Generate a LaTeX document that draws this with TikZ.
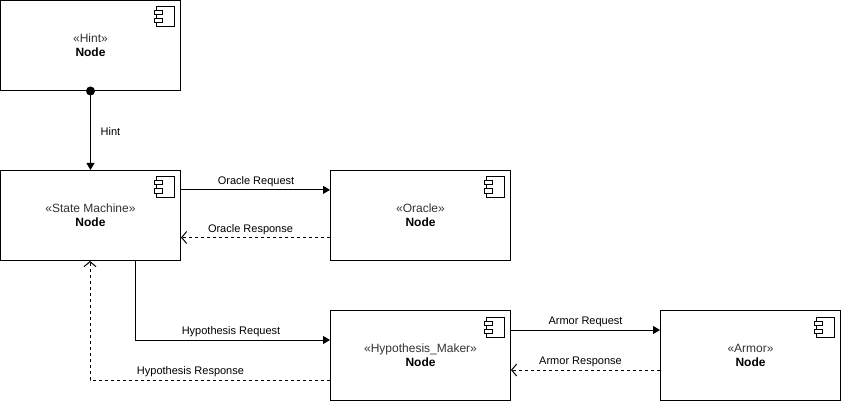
\documentclass[tikz,border=0pt]{standalone}
\usepackage{fontspec}
\setmainfont{Liberation Sans}
\usetikzlibrary{arrows.meta,calc}
\tikzset{
  compbox/.style={draw=black,line width=1pt,fill=white,minimum width=180pt,minimum height=90pt,inner sep=0pt,align=center,font=\fontsize{12}{14}\selectfont,text=black},
  icon/.style={draw=black,line width=1pt,fill=white},
  req/.style={draw=black,line width=1pt,-{Triangle[length=7pt,width=8pt]}},
  resp/.style={draw=black,line width=1pt,dash pattern=on 3pt off 3pt,-{Straight Barb[length=5pt,width=12pt]}},
  lbl/.style={font=\fontsize{11}{13}\selectfont,text=black,inner sep=0pt},
}
\newcommand{\compnode}[4]{%
  \node[compbox] (#1) at (#2,#3) {\textcolor[gray]{0.2}{«#4»}\\\textbf{Node}};
  \draw[icon] ($(#1.north east)+(-25,7)$) rectangle ($(#1.north east)+(-7,27)$);
  \draw[icon] ($(#1.north east)+(-27,11)$) rectangle ($(#1.north east)+(-19,15)$);
  \draw[icon] ($(#1.north east)+(-27,19)$) rectangle ($(#1.north east)+(-19,23)$);
}
\begin{document}
\begin{tikzpicture}[x=1pt,y=-1pt]
\useasboundingbox (0,0) rectangle (841,401);
\compnode{hint}{90.5}{45.5}{Hint}
\compnode{sm}{90.5}{215.5}{State Machine}
\compnode{oracle}{420.5}{215.5}{Oracle}
\compnode{hm}{420.5}{355.5}{Hypothesis\_Maker}
\compnode{armor}{750.5}{355.5}{Armor}
% hint connector
\draw[req] (hint.south) -- (sm.north);
\fill[black] (hint.south) circle (4.5pt);
\node[lbl] (lhint) at (110.5,131.5) {Hint};
% oracle
\draw[req] ($(sm.north east)+(0,19.9)$) -- ($(oracle.north west)+(0,19.9)$);
\node[lbl] (lorq) at (256,181.5) {Oracle Request};
\draw[resp] ($(oracle.north west)+(0,67.5)$) -- ($(sm.north east)+(0,67.5)$);
\node[lbl] (lors) at (250.5,229.5) {Oracle Response};
% hypothesis
\draw[req] ($(sm.south east)+(-45.5,0)$) |- ($(hm.north west)+(0,30)$);
\node[lbl] (lhrq) at (231,331.5) {Hypothesis Request};
\draw[resp] ($(hm.north west)+(0,70)$) -| ($(sm.south west)+(90,0)$);
\node[lbl] (lhrs) at (190.5,371.5) {Hypothesis Response};
% armor
\draw[req] ($(hm.north east)+(0,20)$) -- ($(armor.north west)+(0,20)$);
\node[lbl] (larq) at (585.5,321.5) {Armor Request};
\draw[resp] ($(armor.north west)+(0,60)$) -- ($(hm.north east)+(0,60)$);
\node[lbl] (lars) at (580.5,361.5) {Armor Response};
\end{tikzpicture}
\end{document}
